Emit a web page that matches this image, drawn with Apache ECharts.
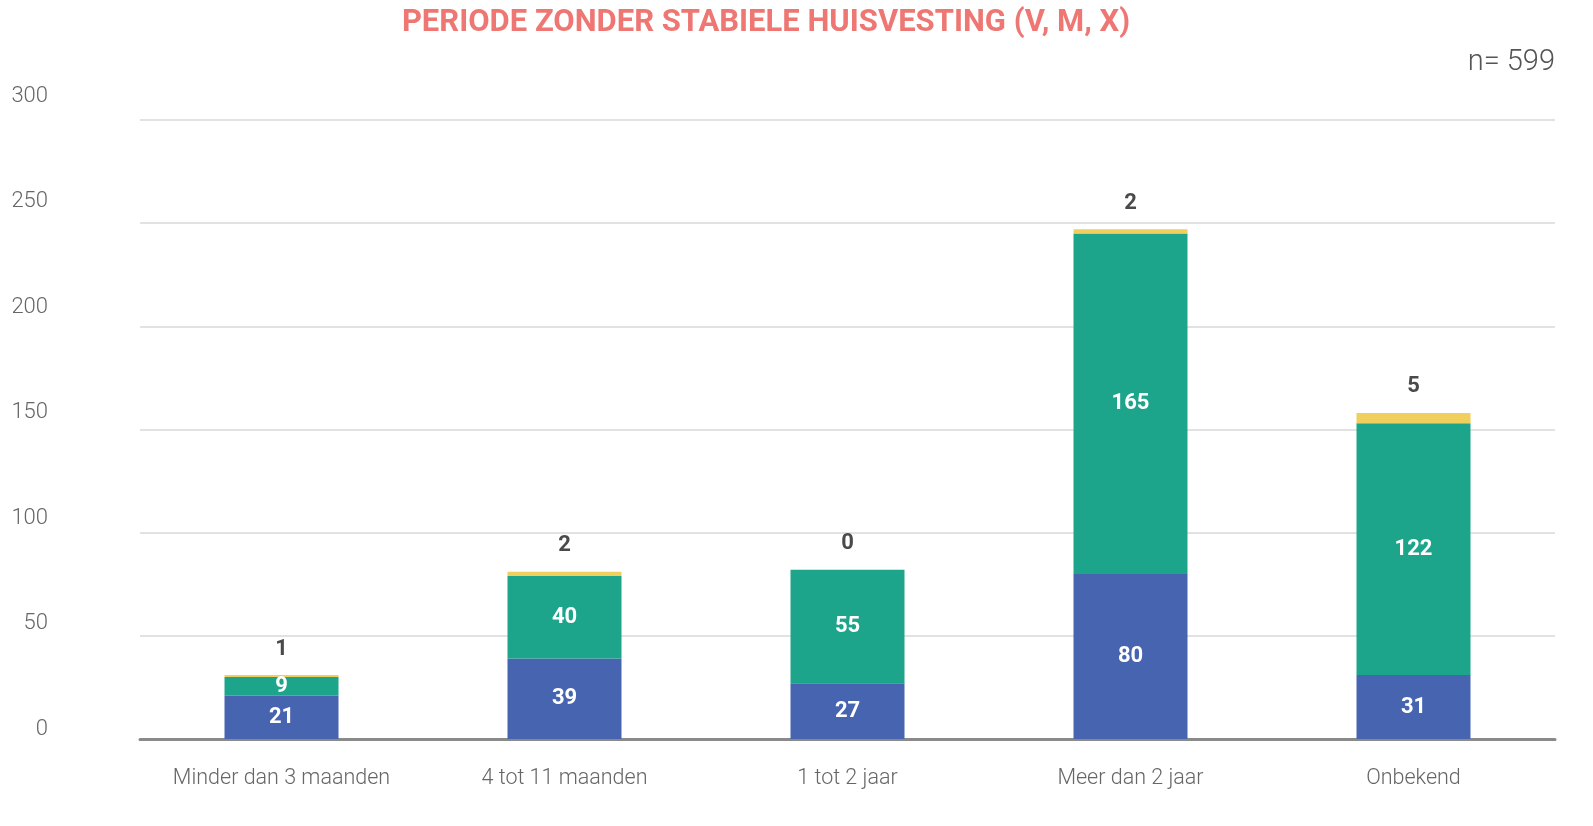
<!DOCTYPE html>
<html>
<head>
<meta charset="utf-8">
<script src="https://cdn.jsdelivr.net/npm/echarts@6/dist/echarts.min.js"></script>
<style>
  html, body { margin: 0; padding: 0; background: #fff; }
  #chart { width: 1593px; height: 826px; }
</style>
</head>
<body>
<div id="chart"></div>
<script>
// categorieen en waarden (V, M, X)
var categories = ['Minder dan 3 maanden', '4 tot 11 maanden', '1 tot 2 jaar', 'Meer dan 2 jaar', 'Onbekend'];
var valuesV = [21, 39, 27, 80, 31];
var valuesM = [9, 40, 55, 165, 122];
var valuesX = [1, 2, 0, 2, 5];
var yTicks = [0, 50, 100, 150, 200, 250, 300];

var FONT = 'Roboto, "Noto Sans", sans-serif';

var chart = echarts.init(document.getElementById('chart'));

var innerLabel = {
    show: true,
    position: 'inside',
    color: '#fff',
    fontFamily: FONT,
    fontWeight: 'bold',
    fontSize: 22
};

var option = {
    animation: false,
    title: {
        text: 'PERIODE ZONDER STABIELE HUISVESTING (V, M, X)',
        left: 761,
        top: 3,
        textAlign: 'center',
        textStyle: {
            color: '#ee7773',
            fontFamily: FONT,
            fontWeight: 'bold',
            fontSize: 31
        }
    },
    graphic: [{
        type: 'text',
        right: 38,
        top: 48,
        style: {
            text: 'n= 599',
            fill: '#555',
            fontFamily: FONT,
            fontWeight: 300,
            fontSize: 29
        }
    }],
    grid: [
        { left: 140, right: 38, top: 120, bottom: 87 },
        // alleen voor de y-labels, die iets hoger staan dan de rasterlijnen
        { left: 56, width: 1, top: 96, bottom: 97 }
    ],
    xAxis: [{
        type: 'category',
        data: categories,
        gridIndex: 0,
        axisTick: { show: false },
        axisLine: { lineStyle: { color: '#8a8a8a', width: 3 } },
        axisLabel: {
            margin: 29,
            color: '#666',
            fontFamily: FONT,
            fontWeight: 300,
            fontSize: 21.5
        }
    }, {
        type: 'category',
        gridIndex: 1,
        data: [''],
        show: false
    }],
    yAxis: [{
        type: 'value',
        gridIndex: 0,
        min: 0,
        max: 300,
        interval: 50,
        axisLabel: { show: false },
        axisLine: { show: false },
        axisTick: { show: false },
        splitLine: { lineStyle: { color: '#e2e2e2', width: 2 } }
    }, {
        type: 'value',
        gridIndex: 1,
        min: yTicks[0],
        max: yTicks[yTicks.length - 1],
        interval: yTicks[1] - yTicks[0],
        axisLine: { show: false },
        axisTick: { show: false },
        splitLine: { show: false },
        axisLabel: {
            margin: 8,
            color: '#666',
            fontFamily: FONT,
            fontWeight: 300,
            fontSize: 22
        }
    }],
    series: [{
        name: 'V',
        type: 'bar',
        stack: 'totaal',
        barWidth: 114,
        data: valuesV,
        itemStyle: { color: '#4764b0' },
        label: innerLabel
    }, {
        name: 'M',
        type: 'bar',
        stack: 'totaal',
        data: valuesM,
        itemStyle: { color: '#1da58c' },
        label: innerLabel
    }, {
        name: 'X',
        type: 'bar',
        stack: 'totaal',
        data: valuesX,
        itemStyle: { color: '#f0cf5c' },
        label: {
            show: true,
            position: 'top',
            distance: 15,
            color: '#4a4a4a',
            fontFamily: FONT,
            fontWeight: 'bold',
            fontSize: 22
        }
    }]
};

chart.setOption(option);
</script>
</body>
</html>
